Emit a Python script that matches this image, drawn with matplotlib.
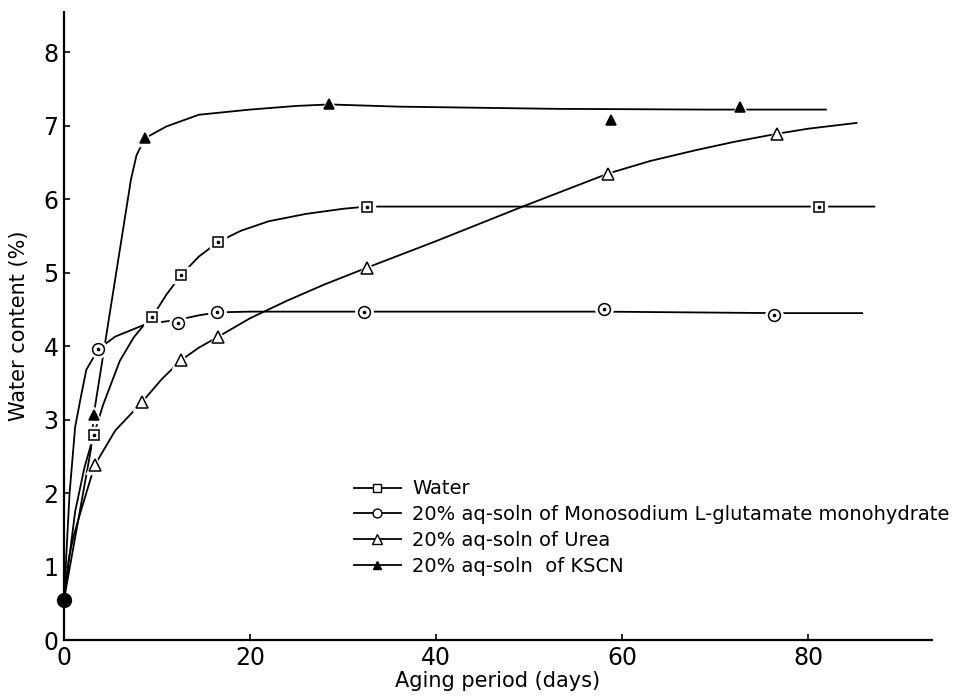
import matplotlib.pyplot as plt

plt.rcParams['font.family'] = ['DejaVu Sans']

# measured points (days, water content %)
start_x = [0.0]
start_y = [0.55]

water_x = [3.2, 9.5, 12.6, 16.6, 32.6, 81.2]
water_y = [2.79, 4.40, 4.97, 5.42, 5.90, 5.90]

msg_x = [3.7, 12.3, 16.5, 32.3, 58.0, 76.3]
msg_y = [3.96, 4.32, 4.47, 4.47, 4.51, 4.43]

urea_x = [3.3, 8.4, 12.6, 16.6, 32.6, 58.5, 76.6]
urea_y = [2.38, 3.24, 3.81, 4.13, 5.07, 6.35, 6.89]

kscn_x = [3.2, 8.7, 28.5, 58.8, 72.7]
kscn_y = [3.07, 6.83, 7.29, 7.08, 7.26]

# hand-drawn trend curves
water_cx = [0, 1.2, 2.2, 3.2, 4.2, 6.0, 7.5, 8.8, 9.5, 11, 12.6, 14.5, 16.6,
            19, 22, 26, 30, 32.6, 60, 81.2, 87.2]
water_cy = [0.55, 1.75, 2.35, 2.79, 3.2, 3.8, 4.12, 4.32, 4.40, 4.7, 4.97, 5.22, 5.42,
            5.57, 5.70, 5.80, 5.87, 5.90, 5.90, 5.90, 5.90]

msg_cx = [0, 0.6, 1.2, 1.8, 2.4, 3.7, 5.5, 8.8, 12.3, 14.5, 16.5, 20, 32.3, 58, 76.3, 85.9]
msg_cy = [0.55, 2.0, 2.9, 3.3, 3.68, 3.96, 4.13, 4.30, 4.36, 4.42, 4.46, 4.47, 4.47,
          4.47, 4.45, 4.45]

urea_cx = [0, 0.5, 1.0, 1.8, 3.3, 5.5, 8.4, 10.5, 12.6, 14.5, 16.6, 20, 24, 28, 32.6,
           40, 49.3, 58.5, 63, 68, 72, 76.6, 80, 85.3]
urea_cy = [0.55, 1.1, 1.4, 1.75, 2.38, 2.85, 3.24, 3.55, 3.81, 3.98, 4.13, 4.38, 4.62,
           4.84, 5.07, 5.43, 5.90, 6.35, 6.52, 6.67, 6.78, 6.89, 6.96, 7.04]

kscn_cx = [0, 2.9, 3.2, 7.2, 7.8, 8.7, 11, 14.5, 20, 25, 28.5, 36, 53, 69, 75, 82]
kscn_cy = [0.55, 2.6, 3.07, 6.27, 6.6, 6.83, 6.99, 7.15, 7.22, 7.27, 7.29, 7.26, 7.23,
           7.22, 7.22, 7.22]

labels = ["Water",
          "20% aq-soln of Monosodium L-glutamate monohydrate",
          "20% aq-soln of Urea",
          "20% aq-soln  of KSCN"]

fig = plt.figure(figsize=(9.58, 6.98), dpi=100)
ax = fig.add_axes([0.0668, 0.083, 0.906, 0.9])

series = [
    (water_cx, water_cy, water_x, water_y, 's', 'white', 7, True),
    (msg_cx, msg_cy, msg_x, msg_y, 'o', 'white', 8.5, True),
    (urea_cx, urea_cy, urea_x, urea_y, '^', 'white', 9, False),
    (kscn_cx, kscn_cy, kscn_x, kscn_y, '^', 'black', 7, False),
]

handles = []
for cx, cy, px, py, m, fc, ms, dot in series:
    ax.plot(cx, cy, color='black', lw=1.3, zorder=2, solid_capstyle='butt')
    # white halo so the line stops short of each marker
    ax.plot(px, py, ls='none', marker=m, ms=ms + 4, mfc='white', mec='white', zorder=3)
    ax.plot(px, py, ls='none', marker=m, ms=ms, mfc=fc, mec='black', mew=1.1, zorder=4)
    if dot:
        ax.plot(px, py, ls='none', marker='o', ms=1.6, mfc='black', mec='black', zorder=5)
    h, = ax.plot([], [], color='black', lw=1.3, marker=m, ms=ms * 0.75,
                 mfc=fc, mec='black', mew=1.0)
    handles.append(h)

ax.plot(start_x, start_y, ls='none', marker='o', ms=10, color='black', zorder=6, clip_on=False)

ax.set_xlim(0, 93.3)
ax.set_ylim(0, 8.55)
ax.set_xticks([0, 20, 40, 60, 80])
ax.set_yticks(range(0, 9))
ax.tick_params(direction='in', length=4, width=1.2, labelsize=17, pad=4)
for s in ['top', 'right']:
    ax.spines[s].set_visible(False)
for s in ['left', 'bottom']:
    ax.spines[s].set_linewidth(1.6)

ax.set_xlabel("Aging period (days)", fontsize=15, labelpad=1)
ax.set_ylabel("Water content (%)", fontsize=15, labelpad=10)

ax.legend(handles, labels, loc='upper left', bbox_to_anchor=(0.325, 0.268),
          frameon=False, fontsize=14, handlelength=2.4, handletextpad=0.6,
          labelspacing=0.35, borderaxespad=0)

fig.savefig("out.png", dpi=100)
